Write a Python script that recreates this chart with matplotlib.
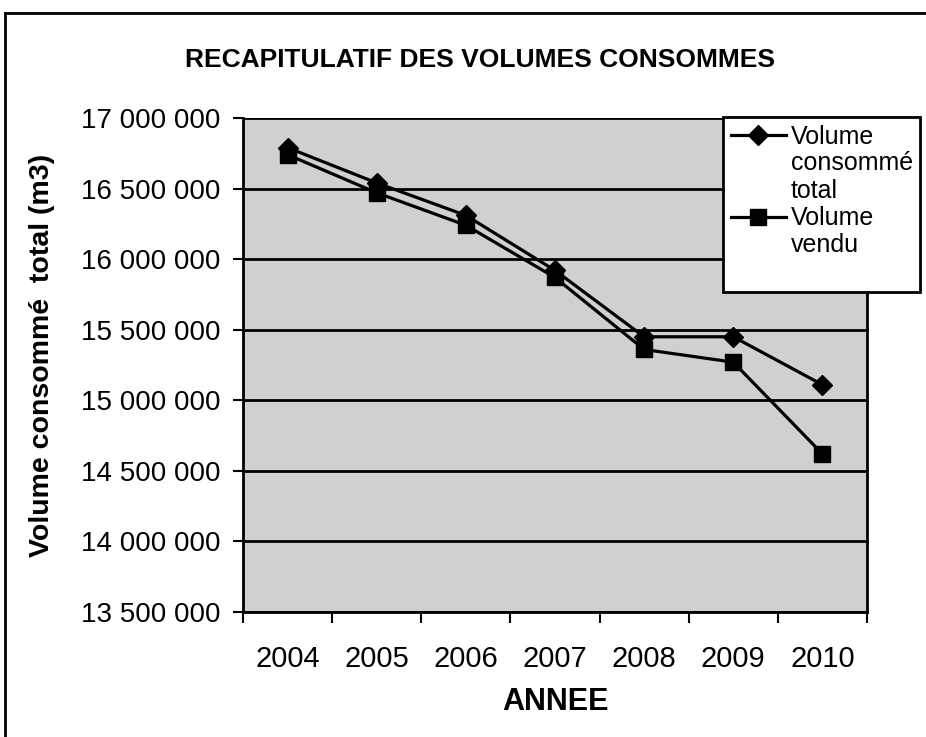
import matplotlib.pyplot as plt
from matplotlib.lines import Line2D
from matplotlib.ticker import FuncFormatter

years = ['2004', '2005', '2006', '2007', '2008', '2009', '2010']
volume_total = [16790000, 16540000, 16310000, 15920000, 15450000, 15450000, 15110000]
volume_vendu = [16740000, 16470000, 16240000, 15870000, 15360000, 15270000, 14620000]

plt.rcParams['font.family'] = ['Liberation Sans', 'DejaVu Sans']

fig = plt.figure(figsize=(9.26, 7.37), dpi=100)
ax = fig.add_axes([243 / 926, 1 - 612 / 737, 624 / 926, 494 / 737])

x = range(len(years))
l1, = ax.plot(x, volume_total, color='black', lw=2.3, marker='D', ms=10)
l2, = ax.plot(x, volume_vendu, color='black', lw=2.3, marker='s', ms=11)

ax.set_xlim(-0.5, len(years) - 0.5)
ax.set_ylim(13500000, 17000000)
ax.set_yticks(range(13500000, 17000001, 500000))
ax.yaxis.set_major_formatter(FuncFormatter(lambda v, p: f'{int(v):,}'.replace(',', ' ')))
ax.set_xticks(x)
ax.set_xticklabels(years)
ax.set_xticks([i - 0.5 for i in range(len(years) + 1)], minor=True)
ax.tick_params(axis='x', which='major', length=0, labelsize=21, pad=24)
ax.tick_params(axis='x', which='minor', length=8, width=1.5, direction='out')
ax.tick_params(axis='y', labelsize=20, length=7, width=1.5, direction='out', pad=9)

ax.set_facecolor('#d0d0d0')
ax.grid(axis='y', color='black', lw=2)
ax.set_axisbelow(True)
for s in ax.spines.values():
    s.set_linewidth(2)
ax.spines['top'].set_visible(False)

ax.set_xlabel('ANNEE', fontsize=22, fontweight='bold', labelpad=10)
ax.set_ylabel('Volume consommé  total (m3)', fontsize=20.5, fontweight='bold')
ax.yaxis.set_label_coords((55 - 243) / 624, 0.52)
fig.text(480 / 926, 1 - 60 / 737, 'RECAPITULATIF DES VOLUMES CONSOMMES',
         ha='center', va='center', fontsize=19, fontweight='bold')

# legend: marker next to the first line of each label, like the original
blank = Line2D([], [], color='none')
leg = fig.legend([l1, blank, l2, blank, blank],
                 ['Volume', 'consommé\ntotal', 'Volume', 'vendu', ' '],
                 loc='upper left', bbox_to_anchor=(723 / 926, 1 - 117 / 737),
                 fontsize=18, frameon=True, fancybox=False, edgecolor='black',
                 framealpha=1, handlelength=2.2, handletextpad=0.2, borderpad=0.3,
                 labelspacing=0.12, borderaxespad=0)
leg.get_frame().set_linewidth(2)

# outer chart border (top and left visible)
fig.add_artist(plt.Line2D([5 / 926, 1], [1 - 13 / 737, 1 - 13 / 737], color='black', lw=2))
fig.add_artist(plt.Line2D([5 / 926, 5 / 926], [0, 1 - 13 / 737], color='black', lw=2))

fig.savefig('out.png')
